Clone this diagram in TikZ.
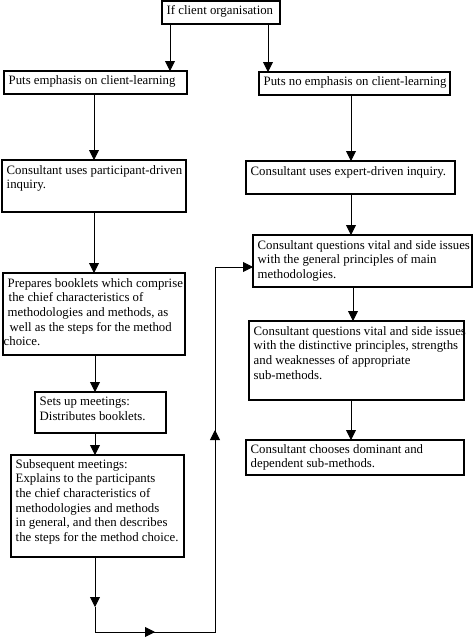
\documentclass[tikz,border=0pt]{standalone}
\usepackage{fontspec}
\setmainfont{Liberation Serif}
\usetikzlibrary{arrows.meta}
\begin{document}
\begin{tikzpicture}[x=1pt,y=-1pt,
  box/.style={draw, line width=1.2pt, anchor=north west, inner sep=0pt, outer sep=0pt},
  txt/.style={anchor=north west, inner xsep=4.5pt, inner ysep=5pt, align=left,
     execute at begin node={\rule{0pt}{9.5pt}},
     font=\fontsize{12.8}{14.7}\selectfont, label distance=0pt},
  conn/.style={line width=0.9pt},
  arr/.style={line width=0.9pt, -{Triangle[length=10pt,width=10pt]}}]
\useasboundingbox (0,0) rectangle (474,638);

\node[box, minimum width=118pt, minimum height=23pt,
  label={[txt, inner ysep=3.5pt]north west:If client organisation}] (top) at (162,1) {};
\node[box, minimum width=183pt, minimum height=23pt,
  label={[txt, inner ysep=4pt]north west:Puts emphasis on client-learning}] (L1) at (4,71) {};
\node[box, minimum width=191pt, minimum height=23pt,
  label={[txt, inner ysep=4pt]north west:Puts no emphasis on client-learning}] (R1) at (259,72) {};
\node[box, minimum width=184pt, minimum height=52pt,
  label={[txt]north west:Consultant uses participant-driven\\inquiry.}] (L2) at (2,160) {};
\node[box, minimum width=209pt, minimum height=33pt,
  label={[txt]north west:Consultant uses expert-driven inquiry.}] (R2) at (246,161) {};
\node[box, minimum width=219pt, minimum height=52pt,
  label={[txt]north west:Consultant questions vital and side issues\\with the general principles of main\\methodologies.}] (R3) at (253,235) {};
\node[box, minimum width=182pt, minimum height=82pt,
  label={[txt]north west:Prepares booklets which comprise\\\hspace*{1pt}the chief characteristics of\\methodologies and methods, as\\\hspace*{2pt}well as the steps for the method\\\hspace*{-4pt}choice.}] (L3) at (3,273) {};
\node[box, minimum width=215pt, minimum height=79pt,
  label={[txt]north west:Consultant questions vital and side issues\\with the distinctive principles, strengths\\and weaknesses of appropriate\\sub-methods.}] (R4) at (249,321) {};
\node[box, minimum width=131pt, minimum height=41pt,
  label={[txt]north west:Sets up meetings:\\Distributes booklets.}] (L4) at (35,392) {};
\node[box, minimum width=218pt, minimum height=35pt,
  label={[txt, inner ysep=4pt]north west:Consultant chooses dominant and\\dependent sub-methods.}] (R5) at (246,440) {};
\node[box, minimum width=173pt, minimum height=102pt,
  label={[txt, inner ysep=4pt]north west:Subsequent meetings:\\Explains to the participants\\the chief characteristics of\\methodologies and methods\\in general, and then describes\\the steps for the method choice.}] (L5) at (11,455) {};

% columns
\coordinate (xa) at (170,0);
\coordinate (xb) at (268,0);
\coordinate (xl) at (94,0);
\coordinate (xl2) at (95,0);
\coordinate (xr) at (351,0);
\coordinate (xr2) at (353,0);

\draw[arr] (top.south -| xa) -- (L1.north -| xa);
\draw[arr] (top.south -| xb) -- (R1.north -| xb);
\draw[arr] (L1.south -| xl) -- (L2.north -| xl);
\draw[arr] (L2.south -| xl) -- (L3.north -| xl);
\draw[arr] (L3.south -| xl2) -- (L4.north -| xl2);
\draw[arr] (L4.south -| xl2) -- (L5.north -| xl2);
\draw[arr] (R1.south -| xr) -- (R2.north -| xr);
\draw[arr] (R2.south -| xr) -- (R3.north -| xr);
\draw[arr] (R3.south -| xr2) -- (R4.north -| xr2);
\draw[arr] (R4.south -| xr) -- (R5.north -| xr);

% loop back
\coordinate (m1) at (95,607);
\coordinate (c1) at (95,632);
\coordinate (m2) at (155,632);
\coordinate (c2) at (215,632);
\coordinate (m3) at (215,430);
\coordinate (c3) at (215,267);
\draw[arr] (L5.south -| xl2) -- (m1);
\draw[conn] (m1) -- (c1) -- (m2);
\draw[arr] (c1) -- (m2);
\draw[conn] (m2) -- (c2) -- (m3);
\draw[arr] (c2) -- (m3);
\draw[conn] (m3) -- (c3);
\draw[arr] (c3) -- (R3.west |- c3);
\end{tikzpicture}
\end{document}
